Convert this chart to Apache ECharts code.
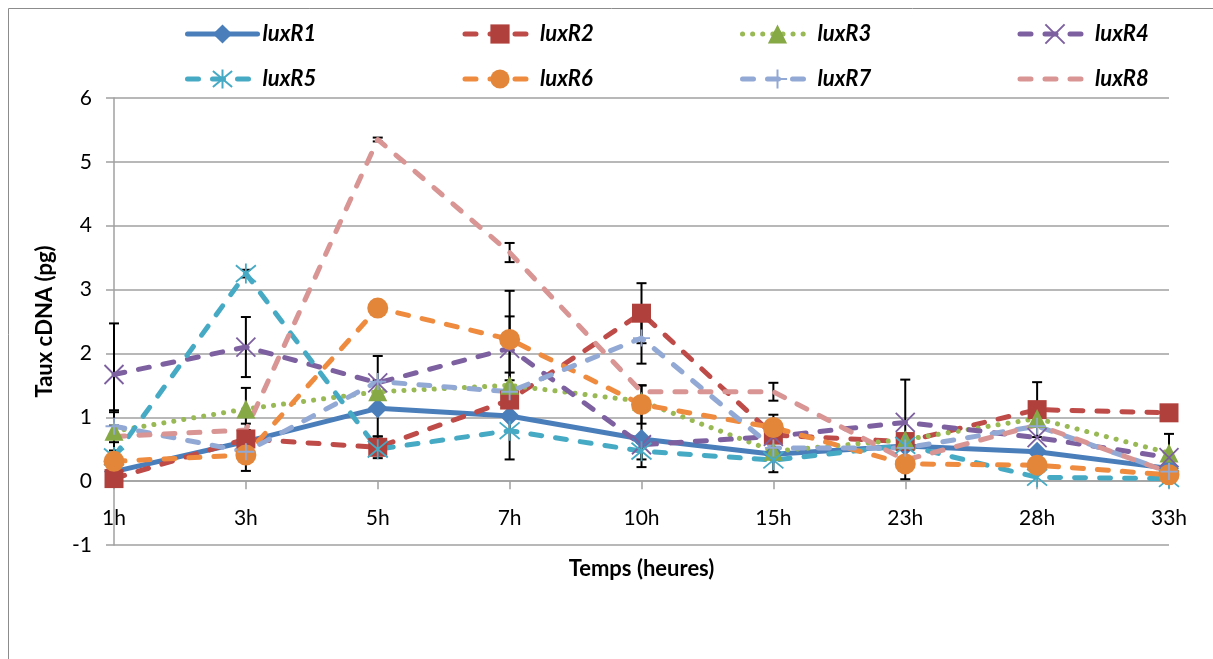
<!DOCTYPE html>
<html><head><meta charset="utf-8">
<script src="https://cdn.jsdelivr.net/npm/echarts@6/dist/echarts.min.js"></script>
<style>html,body{margin:0;padding:0;background:#fff}#c{width:1213px;height:659px}</style>
</head><body><div id="c"></div><script>
const categories = ['1h','3h','5h','7h','10h','15h','23h','28h','33h'];
const seriesNames = ['luxR1','luxR2','luxR3','luxR4','luxR5','luxR6','luxR7','luxR8'];
const yTicks = [-1, 0, 1, 2, 3, 4, 5, 6];

const luxR1 = [0.15, 0.62, 1.14, 1.02, 0.66, 0.42, 0.55, 0.46, 0.20];
const luxR2 = [0.04, 0.66, 0.53, 1.27, 2.63, 0.72, 0.62, 1.12, 1.07];
const luxR3 = [0.78, 1.13, 1.40, 1.50, 1.25, 0.47, 0.65, 0.98, 0.44];
const luxR4 = [1.67, 2.10, 1.54, 2.08, 0.57, 0.70, 0.92, 0.68, 0.37];
const luxR5 = [0.38, 3.25, 0.50, 0.79, 0.47, 0.33, 0.56, 0.06, 0.04];
const luxR6 = [0.31, 0.41, 2.71, 2.22, 1.20, 0.84, 0.27, 0.25, 0.10];
const luxR7 = [0.86, 0.46, 1.56, 1.40, 2.24, 0.52, 0.52, 0.86, 0.15];
const luxR8 = [0.70, 0.80, 5.35, 3.58, 1.40, 1.40, 0.33, 0.88, 0.14];

// symmetric error (+/-) per point, null = none visible
const err1 = [null, null, 0.44, 0.68, 0.44, null, null, null, null];
const err2 = [null, 0.24, 0.17, null, 0.47, null, null, 0.43, null];
const err3 = [0.30, 0.33, null, null, null, null, null, null, 0.30];
const err4 = [0.80, 0.47, null, 0.50, null, null, 0.67, null, null];
const err5 = [null, 0.06, null, null, 0.13, 0.19, null, null, null];
const err6 = [null, 0.25, null, 0.76, 0.30, 0.20, 0.24, null, null];
const err7 = [0.25, null, 0.40, null, 0.40, null, null, null, null];
const err8 = [null, null, 0.03, 0.15, 0.10, 0.14, null, null, null];

const values = [luxR1, luxR2, luxR3, luxR4, luxR5, luxR6, luxR7, luxR8];
const errors = [err1, err2, err3, err4, err5, err6, err7, err8];

const colors = ['#4A7EBB','#BE4B48','#98B954','#7D60A0','#46AAC5','#EE8B3E','#93A9D5','#D89594'];
const markerColors = ['#4A7EBB','#B0403C','#86A845','#7D60A0','#46AAC5','#E4863A','#93A9D5','rgba(0,0,0,0)'];
const symbols = ['diamond','rect','triangle',
  'path://M0,0L10,10M10,0L0,10',
  'path://M0,0L10,10M10,0L0,10M5,-1L5,11',
  'circle',
  'path://M5,0L5,10M0,5L10,5',
  'circle'];
const symbolSizes = [20, 19, 19, 19, 20, 21, 17, 1];
const showSymbols = [true, true, true, true, true, true, true, false];
const strokeSymbol = [false,false,false,true,true,false,true,false];
const dashes = ['solid',[11,14],[0.1,10],[11,14],[11,14],[11,14],[11,14],[11,14]];

const FONT = 'Lato, "Liberation Sans", sans-serif';

function renderErr(params, api){
  const x = api.value(0), lo = api.value(1), hi = api.value(2);
  const p1 = api.coord([x, lo]), p2 = api.coord([x, hi]);
  const w = 5;
  const style = {stroke:'#000', lineWidth:2};
  return {type:'group', children:[
    {type:'line', shape:{x1:p1[0],y1:p1[1],x2:p2[0],y2:p2[1]}, style},
    {type:'line', shape:{x1:p1[0]-w,y1:p1[1],x2:p1[0]+w,y2:p1[1]}, style},
    {type:'line', shape:{x1:p2[0]-w,y1:p2[1],x2:p2[0]+w,y2:p2[1]}, style}
  ]};
}

const series = [];
seriesNames.forEach((name, k) => {
  series.push({
    name: name, type: 'line', data: values[k],
    symbol: symbols[k], symbolSize: symbolSizes[k],
    showSymbol: showSymbols[k],
    lineStyle: {color: colors[k], width: 5, type: dashes[k], cap: 'round', join:'round'},
    itemStyle: strokeSymbol[k]
      ? {color: markerColors[k], borderColor: markerColors[k], borderWidth: 1.8}
      : {color: markerColors[k], borderWidth: 0},
    emphasis: {disabled: true},
    animation: false
  });
  const ed = [];
  errors[k].forEach((e, i) => { if (e !== null) ed.push([i, values[k][i] - e, values[k][i] + e]); });
  series.push({
    name: 'err-' + name, type: 'custom', data: ed,
    encode: {x: 0, y: [1, 2]},
    renderItem: renderErr, silent: true, animation: false
  });
});

const legends = seriesNames.map((name, k) => ({
  orient: 'horizontal', left: 180 + (k % 4) * 277.5, top: k < 4 ? 18 : 63,
  itemWidth: 70, itemHeight: 24, itemGap: 0,
  lineStyle: {width: 5},
  textStyle: {fontFamily: FONT, fontSize: 22, fontWeight: 'bold', fontStyle: 'italic', color: '#000'},
  selectedMode: false, data: [name]
}));

const gridTop = 98, gridBottom = 114, chartH = 659;
const zeroOffset = -(chartH - gridTop - gridBottom) / (yTicks.length - 1) * (0 - yTicks[0]);

const chart = echarts.init(document.getElementById('c'), null, {renderer: 'canvas'});
chart.setOption({
  backgroundColor: '#fff',
  animation: false,
  graphic: [{type: 'rect', shape: {x: 8.5, y: 8.5, width: 1220, height: 670},
    style: {fill: 'none', stroke: '#8C8C8C', lineWidth: 1}, silent: true}],
  legend: legends,
  grid: {left: 114, right: 44, top: gridTop, bottom: gridBottom, containLabel: false},
  xAxis: {
    type: 'category', data: categories, boundaryGap: false,
    offset: zeroOffset,
    axisLine: {onZero: false, lineStyle: {color: '#A0A0A0', width: 1.5}},
    axisTick: {show: true, inside: false, length: 8, alignWithLabel: true, lineStyle: {color: '#A0A0A0', width: 1.5}},
    axisLabel: {fontFamily: FONT, fontSize: 21, color: '#000', margin: 27},
    name: 'Temps (heures)', nameLocation: 'middle', nameGap: 77,
    nameTextStyle: {fontFamily: FONT, fontSize: 22, fontWeight: 'bold', color: '#000'},
    splitLine: {show: false}
  },
  yAxis: {
    type: 'value', min: yTicks[0], max: yTicks[yTicks.length - 1], interval: 1,
    axisLine: {show: true, lineStyle: {color: '#A0A0A0', width: 1.5}},
    axisTick: {show: true, length: 8, lineStyle: {color: '#A0A0A0', width: 1.5}},
    axisLabel: {fontFamily: FONT, fontSize: 21, color: '#000', margin: 22},
    splitLine: {show: true, lineStyle: {color: '#A0A0A0', width: 1.5}},
    name: 'Taux cDNA (pg)', nameLocation: 'middle', nameGap: 58, nameRotate: 90,
    nameTextStyle: {fontFamily: FONT, fontSize: 22, fontWeight: 'bold', color: '#000'}
  },
  series: series
});
</script></body></html>
